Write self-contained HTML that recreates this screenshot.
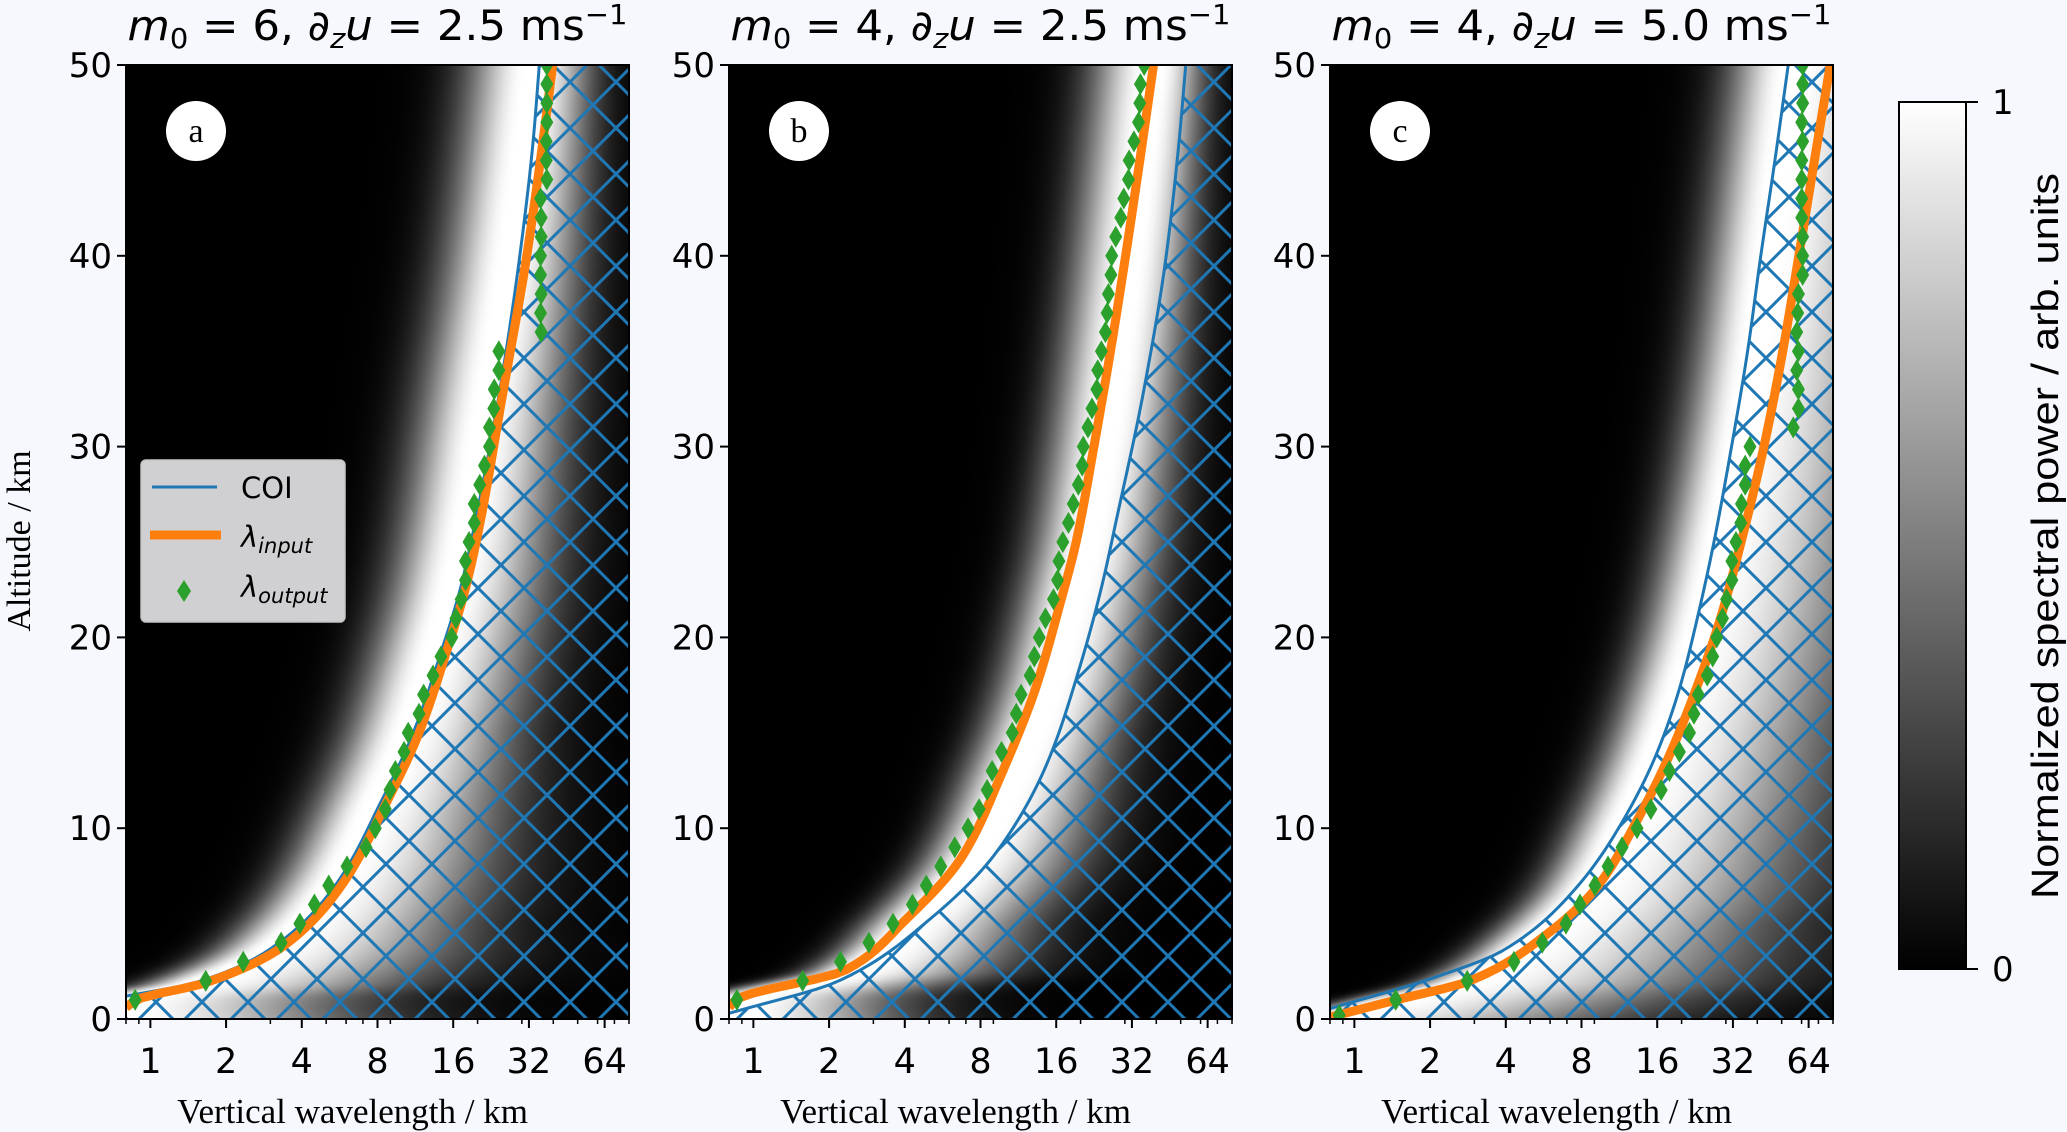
<!DOCTYPE html>
<html><head><meta charset="utf-8">
<style>
html,body{margin:0;padding:0;background:#f7f8fd;}
#wrap{position:relative;width:2067px;height:1132px;overflow:hidden;background:#f7f8fd;}
canvas{position:absolute;}
svg{position:absolute;left:0;top:0;}
</style></head>
<body>
<div id="wrap">
<canvas id="hm0" width="503" height="954" style="left:126px;top:65px"></canvas>
<canvas id="hm1" width="503" height="954" style="left:729px;top:65px"></canvas>
<canvas id="hm2" width="503" height="954" style="left:1330px;top:65px"></canvas>
<svg id="svg" width="2067" height="1132" xmlns="http://www.w3.org/2000/svg">
<defs>
<pattern id="hatch" patternUnits="userSpaceOnUse" x="41" y="13" width="46" height="46">
<line x1="0" y1="0" x2="46" y2="46" stroke="#1f77b4" stroke-width="3"/>
<line x1="46" y1="0" x2="0" y2="46" stroke="#1f77b4" stroke-width="3"/>
</pattern>
<linearGradient id="cbgrad" x1="0" y1="1" x2="0" y2="0">
<stop offset="0" stop-color="#000"/><stop offset="1" stop-color="#fff"/>
</linearGradient>
</defs>
</svg>
</div>
<script>
// ---- data ----
const panelLetters = ["a", "b", "c"];
const titleM0 = ["6", "4", "4"];
const titleShear = ["2.5", "2.5", "5.0"];
const yTicks = [0, 10, 20, 30, 40, 50];
const xTicks = [1, 2, 4, 8, 16, 32, 64];

const outZA = [1,2,3,4,5,6,7,8,9,10,11,12,13,14,15,16,17,18,19,20,21,22,23,24,25,26,27,28,29,30,31,32,33,34,35,36,37,38,39,40,41,42,43,44,45,46,47,48,49,50];
const outLamA = [0.87,1.66,2.34,3.31,3.93,4.49,5.12,6.05,7.2,7.84,8.59,8.97,9.42,10.2,10.6,11.7,12.2,13.3,14.3,15.8,16.4,17.2,17.9,17.9,18.5,19.4,19.4,20.4,21.3,22.3,22.3,23.2,23.3,24.3,24.3,35.8,35.6,35.8,35.6,35.6,35.8,35.8,35.6,37.7,37.5,37.5,37.7,37.7,37.7,37.7];
const inZA = [0.6,1,1.9,3.8,7.1,11.3,15,19.2,22.7,25.8,32.8,39.8,45.9,50];
const inLamA = [0.8,0.88,1.66,3.36,5.82,8.65,11.7,15.0,18.0,20.3,25.2,31.2,36.3,39.8];
const coiZA = [1.2,1.9,3.8,7.1,11.3,15,19.2,22.7,25.8,32.8,39.8,45.9,50];
const coiLamA = [0.8,1.5,3.1,5.5,8.2,11.1,14.3,17.2,19.4,24.4,29.3,33.2,35.2];

const outZB = [1,2,3,4,5,6,7,8,9,10,11,12,13,14,15,16,17,18,19,20,21,22,23,24,25,26,27,28,29,30,31,32,33,34,35,36,37,38,39,40,41,42,43,44,45,46,47,48,49,50];
const outLamB = [0.86,1.57,2.22,2.88,3.59,4.29,4.87,5.56,6.32,7.14,7.9,8.5,8.9,9.7,10.7,11.1,11.6,12.6,13.1,13.7,14.5,15.6,16.2,16.4,17.0,17.9,18.7,19.6,20.3,20.5,21.4,22.2,23.2,23.4,24.2,25.1,25.5,25.8,26.4,26.6,27.6,28.9,29.7,31.0,31.2,32.6,34.0,34.4,34.6,35.8];
const inZB = [0.6,1,2.57,5.2,8.5,12.9,17.4,21.8,25,30,35,40,45,50];
const inLamB = [0.8,0.85,2.33,4.03,6.75,9.74,13.3,16.6,19.2,22.6,26.3,30.2,34.4,39.0];
const coiZB = [0.3,2,5.2,8.7,13.2,18.3,22.7,26.2,32.8,39.8,45.9,50];
const coiLamB = [0.8,2.19,5.0,9.2,14.5,19.7,24.3,27.8,35.5,43.6,49.2,52.4];

const outZC = [0.2,1,2,3,4,5,6,7,8,9,10,11,12,13,14,15,16,17,18,19,20,21,22,23,24,25,26,27,28,29,30,31,32,33,34,35,36,37,38,39,40,41,42,43,44,45,46,47,48,49,50];
const outLamC = [0.87,1.46,2.81,4.31,5.59,6.94,7.89,9.05,10.2,11.6,13.3,15.1,16.6,17.9,19.6,21.5,22.4,23.3,25.3,26.6,27.6,29.1,30.2,31.7,31.7,32.9,34.4,34.6,35.8,35.8,37.4,55.6,58.3,58.3,57.4,58.3,57.4,57.9,58.3,60.6,60.6,60.6,60.1,60.1,60.1,60.1,60.6,60.1,60.6,60.6,60.6];
const inZC = [0.1,1,2,4.3,6.9,10.4,13.9,17.4,20.9,25,30,35,40,45,50];
const inLamC = [0.8,1.47,2.88,5.64,9.2,13.3,18.0,23.0,28.4,34.5,42.5,50.5,58.5,67.5,78];
const coiZC = [0.55,2.1,3.6,6.9,10.4,13.9,17.4,20.9,25,30,35,40,45,50];
const coiLamC = [0.8,2.0,3.91,7.65,11.7,15.9,19.7,23.0,26.9,31.6,36.6,41.3,47.0,53.1];

const cbTicks = [0, 1];

// ---- layout ----
const NS = "http://www.w3.org/2000/svg";
const svg = document.getElementById('svg');
const lefts = [126, 729, 1330];
const PW = 503, TOP = 65, BOT = 1019, PH = BOT - TOP;
const LMIN = Math.log2(0.8), LMAX = Math.log2(80);
function xs(p, lam){ return lefts[p] + (Math.log2(lam) - LMIN) / (LMAX - LMIN) * PW; }
function xsLog(p, l){ return lefts[p] + (l - LMIN) / (LMAX - LMIN) * PW; }
function ys(z){ return BOT - z / 50 * PH; }
function mk(tag, attrs, parent){ const e = document.createElementNS(NS, tag); for (const k in attrs) e.setAttribute(k, attrs[k]); (parent || svg).appendChild(e); return e; }

function monoInterp(xArr, yArr){
  const n = xArr.length, dx = [], m = [], t = new Array(n);
  for (let i = 0; i < n-1; i++){ dx.push(xArr[i+1]-xArr[i]); m.push((yArr[i+1]-yArr[i])/dx[i]); }
  t[0] = m[0]; t[n-1] = m[n-2];
  for (let i = 1; i < n-1; i++){
    if (m[i-1]*m[i] <= 0) t[i] = 0;
    else { const w1 = 2*dx[i]+dx[i-1], w2 = dx[i]+2*dx[i-1]; t[i] = (w1+w2)/(w1/m[i-1]+w2/m[i]); }
  }
  return function(x){
    if (x <= xArr[0]) return yArr[0] + t[0]*(x-xArr[0]);
    if (x >= xArr[n-1]) return yArr[n-1] + t[n-1]*(x-xArr[n-1]);
    let i = 0; while (x > xArr[i+1]) i++;
    const h = dx[i], s = (x-xArr[i])/h, s2 = s*s, s3 = s2*s;
    return (2*s3-3*s2+1)*yArr[i] + (s3-2*s2+s)*h*t[i] + (-2*s3+3*s2)*yArr[i+1] + (s3-s2)*h*t[i+1];
  };
}
function curvePoints(p, zArr, lArr){
  const f = monoInterp(zArr, lArr.map(v => Math.log2(v)));
  const pts = [];
  for (let z = zArr[0]; z <= 50.01; z += 0.25) pts.push([xsLog(p, f(z)), ys(z)]);
  pts.push([xsLog(p, f(50.5)), ys(50.5)]);
  return pts;
}
function polyD(pts){ return 'M' + pts.map(q => q[0].toFixed(2) + ',' + q[1].toFixed(2)).join('L'); }
function interpLin(zArr, vArr, z){
  if (z <= zArr[0]) return vArr[0];
  for (let i = 0; i < zArr.length-1; i++){
    if (z <= zArr[i+1]){ const t = (z-zArr[i])/(zArr[i+1]-zArr[i]); return vArr[i]*(1-t) + vArr[i+1]*t; }
  }
  return vArr[vArr.length-1];
}

const sigZ = [0, 5, 15, 30, 50];
const panels = [
  {outZ: outZA, outL: outLamA, inZ: inZA, inL: inLamA, coiZ: coiZA, coiL: coiLamA, off: [-0.1,-0.12,-0.15,-0.2,-0.25],
   sL: [0.55,0.65,0.7,0.75,0.75], sR: [2.9,2.0,1.3,1.0,0.65]},
  {outZ: outZB, outL: outLamB, inZ: inZB, inL: inLamB, coiZ: coiZB, coiL: coiLamB, off: [0.1,0.15,0.2,0.15,0.0],
   sL: [0.5,0.55,0.6,0.65,0.7], sR: [2.0,1.4,1.0,0.8,0.55]},
  {outZ: outZC, outL: outLamC, inZ: inZC, inL: inLamC, coiZ: coiZC, coiL: coiLamC, off: [0,-0.1,-0.2,-0.35,-0.5],
   sL: [0.5,0.55,0.6,0.65,0.7], sR: [3.5,2.6,2.1,1.9,1.5]}
];

panels.forEach((P, p) => {
  const cv = document.getElementById('hm' + p), ctx = cv.getContext('2d');
  const img = ctx.createImageData(PW, PH);
  const f = monoInterp(P.inZ, P.inL.map(v => Math.log2(v)));
  const w = 0.1;
  for (let j = 0; j < PH; j++){
    const z = (PH - j - 0.5) / PH * 50;
    const c = f(Math.max(z, P.inZ[0])) + interpLin(sigZ, P.off, z);
    const sL = interpLin(sigZ, P.sL, z);
    const sR = interpLin(sigZ, P.sR, z);
    for (let i = 0; i < PW; i++){
      const l = LMIN + (i + 0.5) / PW * (LMAX - LMIN);
      const d = l - c;
      let v;
      if (d < 0){ const e = Math.max(0, -d - w) / sL; v = Math.exp(-e*e); }
      else { const e = Math.max(0, d - w) / sR; v = Math.exp(-e*e); }
      const g = Math.round(255 * v), k = (j*PW + i)*4;
      img.data[k] = g; img.data[k+1] = g; img.data[k+2] = g; img.data[k+3] = 255;
    }
  }
  ctx.putImageData(img, 0, 0);
});

panels.forEach((P, p) => {
  const L = lefts[p], R = L + PW;
  const g = mk('g', {});
  
  
  const cid = 'clip' + p;
  const cp = mk('clipPath', {id: cid}, svg.querySelector('defs'));
  mk('rect', {x: L, y: TOP, width: PW, height: PH}, cp);
  const coiPts = curvePoints(p, P.coiZ, P.coiL);
  const hd = polyD(coiPts) + 'L' + (R+5) + ',' + (TOP-5) + 'L' + (R+5) + ',' + (BOT+5) + 'L' + (L-5) + ',' + (BOT+5) + 'L' + (L-5) + ',' + coiPts[0][1] + 'Z';
  const hatch = mk('path', {d: hd, fill: 'url(#hatch)', 'clip-path': 'url(#' + cid + ')'}, g);
  
  
  const coi = mk('path', {d: polyD(coiPts), fill: 'none', stroke: '#1f77b4', 'stroke-width': 3, 'stroke-linejoin': 'round', 'clip-path': 'url(#' + cid + ')'}, g);
  
  
  const inPts = curvePoints(p, P.inZ, P.inL);
  const inp = mk('path', {d: polyD(inPts), fill: 'none', stroke: '#ff7f0e', 'stroke-width': 9, 'stroke-linejoin': 'round', 'clip-path': 'url(#' + cid + ')'}, g);
  
  
  const dg = mk('g', {'clip-path': 'url(#' + cid + ')'}, g);
  P.outZ.forEach((z, i) => {
    const x = xs(p, P.outL[i]), y = ys(z);
    const dm = mk('path', {d: 'M' + x + ',' + (y-11) + 'L' + (x+6.5) + ',' + y + 'L' + x + ',' + (y+11) + 'L' + (x-6.5) + ',' + y + 'Z', fill: '#2ca02c'}, dg);
    
    
  });
  const fr = mk('rect', {x: L, y: TOP, width: PW, height: PH, fill: 'none', stroke: '#000', 'stroke-width': 2}, g);
  
  
  const el = mk('ellipse', {cx: L + 70, cy: 131, rx: 30, ry: 30, fill: '#fff'}, g);
  
  
  const lt = mk('text', {x: L + 70, y: 142, 'text-anchor': 'middle', 'font-family': 'Liberation Serif, serif', 'font-size': 34}, g);
  lt.textContent = panelLetters[p];
  
  
  yTicks.forEach(t => {
    mk('line', {x1: L-9, x2: L, y1: ys(t), y2: ys(t), stroke: '#000', 'stroke-width': 2}, g);
    const tx = mk('text', {x: L-14, y: ys(t)+12, 'text-anchor': 'end', 'font-family': 'DejaVu Sans, sans-serif', 'font-size': 34}, g);
    tx.textContent = t;
    
    
  });
  [0.8,0.9,2,3,4,5,6,7,8,9,20,30,40,50,60,70,80].forEach(m => {
    const x = xs(p, m); mk('line', {x1: x, x2: x, y1: BOT, y2: BOT+5, stroke: '#000', 'stroke-width': 1.5}, g);
  });
  xTicks.forEach(t => {
    const x = xs(p, t);
    mk('line', {x1: x, x2: x, y1: BOT, y2: BOT+9, stroke: '#000', 'stroke-width': 2}, g);
    const tx = mk('text', {x: x, y: 1073, 'text-anchor': 'middle', 'font-family': 'DejaVu Sans, sans-serif', 'font-size': 35}, g);
    tx.textContent = t;
    
    
  });
  const xt = mk('text', {x: L + PW/2 - 25, y: 1123, 'text-anchor': 'middle', 'font-family': 'Liberation Serif, serif', 'font-size': 35}, g);
  xt.textContent = 'Vertical wavelength / km';
  
  
  const tt = mk('text', {x: L + PW/2, y: 40, 'text-anchor': 'middle', 'font-family': 'DejaVu Sans, sans-serif', 'font-size': 42, textLength: 500, lengthAdjust: 'spacingAndGlyphs'}, g);
  tt.innerHTML = '<tspan font-style="italic">m</tspan><tspan font-size="28" dy="8">0</tspan><tspan dy="-8"> = ' + titleM0[p] + ', ∂</tspan><tspan font-size="28" font-style="italic" dy="8">z</tspan><tspan font-style="italic" dy="-8">u</tspan><tspan> = ' + titleShear[p] + ' ms</tspan><tspan font-size="28" dy="-16">−1</tspan>';
  
  
});

const yt = mk('text', {x: 0, y: 0, transform: 'translate(30,541) rotate(-90)', 'text-anchor': 'middle', 'font-family': 'Liberation Serif, serif', 'font-size': 34});
yt.textContent = 'Altitude / km';



const lg = mk('g', {});


mk('rect', {x: 141, y: 460, width: 204, height: 162, rx: 5, fill: '#d0d0d2', stroke: '#c4c4c4', 'stroke-width': 1.5}, lg);
const le1 = mk('line', {x1: 152, x2: 217, y1: 487, y2: 487, stroke: '#1f77b4', 'stroke-width': 3}, lg);


const le2 = mk('line', {x1: 150, x2: 221, y1: 535, y2: 535, stroke: '#ff7f0e', 'stroke-width': 9}, lg);


const le3 = mk('path', {d: 'M184,580L191,591L184,602L177,591Z', fill: '#2ca02c'}, lg);


const lt1 = mk('text', {x: 241, y: 498, 'font-family': 'DejaVu Sans, sans-serif', 'font-size': 29}, lg);
lt1.textContent = 'COI';


const lt2 = mk('text', {x: 241, y: 547, 'font-family': 'DejaVu Sans, sans-serif', 'font-size': 29, 'font-style': 'italic'}, lg);
lt2.innerHTML = 'λ<tspan font-size="21" dy="6">input</tspan>';


const lt3 = mk('text', {x: 241, y: 597, 'font-family': 'DejaVu Sans, sans-serif', 'font-size': 29, 'font-style': 'italic'}, lg);
lt3.innerHTML = 'λ<tspan font-size="21" dy="6">output</tspan>';



const cb = mk('g', {});


const CBT = 102, CBB = 969;
mk('rect', {x: 1899, y: CBT, width: 67, height: CBB-CBT, fill: 'url(#cbgrad)', stroke: '#000', 'stroke-width': 2}, cb);
cbTicks.forEach(t => {
  const y = CBB - t * (CBB - CBT);
  mk('line', {x1: 1966, x2: 1978, y1: y, y2: y, stroke: '#000', 'stroke-width': 2}, cb);
  const tx = mk('text', {x: 1992, y: y + 12, 'font-family': 'DejaVu Sans, sans-serif', 'font-size': 34}, cb);
  tx.textContent = t;
  
  
});
const cbl = mk('text', {x: 0, y: 0, transform: 'translate(2058,536) rotate(-90)', 'text-anchor': 'middle', 'font-family': 'Liberation Sans, sans-serif', 'font-size': 38, textLength: 726, lengthAdjust: 'spacingAndGlyphs'}, cb);
cbl.textContent = 'Normalized spectral power / arb. units';


</script>
</body></html>
